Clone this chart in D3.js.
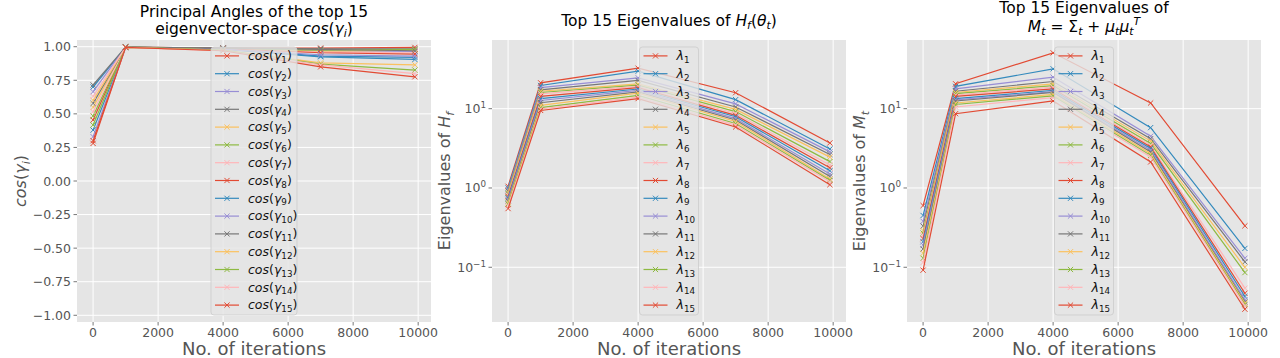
<!DOCTYPE html>
<html>
<head>
<meta charset="utf-8">
<script src="https://cdn.jsdelivr.net/npm/d3@7"></script>
<style>
html,body{margin:0;padding:0;background:#fff;}
svg text{white-space:pre;font-family:"DejaVu Sans",sans-serif;}
</style>
</head>
<body>
<svg id="chart" width="1280" height="358"></svg>
<script>
// ---------------- DATA ----------------
const iterations = [0, 1000, 4000, 7000, 9900];
const xTicks = [0, 2000, 4000, 6000, 8000, 10000];
const cosTicks = [-1.0, -0.75, -0.5, -0.25, 0.0, 0.25, 0.5, 0.75, 1.0];
const logTicks = [0.1, 1, 10];
const logTickExp = ["\u22121", "0", "1"];
const colors = ["#E24A33", "#348ABD", "#988ED5", "#777777", "#FBC15E", "#8EBA42", "#FFB5B8"];

// cos(gamma_i) per series, values at iterations
const cos1  = [0.454, 0.998, 0.990, 0.990, 0.995];
const cos2  = [0.700, 0.997, 0.985, 0.930, 0.920];
const cos3  = [0.665, 0.997, 0.985, 0.970, 0.965];
const cos4  = [0.715, 0.998, 0.990, 0.985, 0.985];
const cos5  = [0.548, 0.997, 0.985, 0.965, 0.975];
const cos6  = [0.484, 0.997, 0.985, 0.975, 0.980];
const cos7  = [0.516, 0.996, 0.980, 0.960, 0.955];
const cos8  = [0.280, 0.996, 0.985, 0.955, 0.945];
const cos9  = [0.379, 0.996, 0.980, 0.925, 0.905];
const cos10 = [0.330, 0.996, 0.980, 0.940, 0.930];
const cos11 = [0.578, 0.997, 0.990, 0.980, 0.970];
const cos12 = [0.600, 0.995, 0.975, 0.880, 0.865];
const cos13 = [0.417, 0.995, 0.975, 0.870, 0.826];
const cos14 = [0.630, 0.995, 0.970, 0.865, 0.800];
const cos15 = [0.300, 0.995, 0.970, 0.850, 0.776];

// Top 15 eigenvalues of H_f
const hf1  = [1.05, 21.2, 32.4, 15.9, 3.70];
const hf2  = [1.00, 19.6, 29.7, 13.0, 3.10];
const hf3  = [0.95, 18.4, 24.5, 11.5, 2.85];
const hf4  = [0.92, 17.3, 22.7, 10.5, 2.65];
const hf5  = [0.88, 16.6, 20.6, 9.8, 2.45];
const hf6  = [0.85, 16.0, 19.8, 9.2, 2.15];
const hf7  = [0.82, 15.4, 19.1, 8.7, 1.95];
const hf8  = [0.78, 14.3, 18.4, 8.24, 1.80];
const hf9  = [0.75, 13.4, 17.7, 7.9, 1.65];
const hf10 = [0.72, 12.7, 17.0, 7.5, 1.50];
const hf11 = [0.69, 11.9, 16.3, 7.2, 1.40];
const hf12 = [0.66, 11.0, 15.7, 6.9, 1.30];
const hf13 = [0.63, 10.3, 14.7, 6.5, 1.25];
const hf14 = [0.60, 9.9, 14.0, 6.2, 1.20];
const hf15 = [0.55, 9.5, 13.4, 5.87, 1.10];

// Top 15 eigenvalues of M_t
const mt1  = [0.600, 20.6, 50.6, 11.8, 0.333];
const mt2  = [0.450, 19.1, 31.8, 5.77, 0.173];
const mt3  = [0.380, 17.8, 25.0, 4.49, 0.130];
const mt4  = [0.330, 16.6, 22.0, 4.19, 0.117];
const mt5  = [0.290, 16.0, 20.6, 3.90, 0.100];
const mt6  = [0.270, 15.5, 19.5, 3.63, 0.0857];
const mt7  = [0.250, 14.9, 18.7, 3.45, 0.0545];
const mt8  = [0.230, 14.3, 17.8, 3.29, 0.0470];
const mt9  = [0.210, 13.4, 17.0, 3.15, 0.0428];
const mt10 = [0.190, 12.9, 16.4, 2.99, 0.0389];
const mt11 = [0.170, 12.5, 16.0, 2.85, 0.0366];
const mt12 = [0.150, 11.8, 15.1, 2.71, 0.0353];
const mt13 = [0.130, 11.3, 14.5, 2.58, 0.0340];
const mt14 = [0.115, 10.5, 13.8, 2.46, 0.0326];
const mt15 = [0.092, 8.65, 12.5, 2.13, 0.0296];

const cosSeries = [cos1,cos2,cos3,cos4,cos5,cos6,cos7,cos8,cos9,cos10,cos11,cos12,cos13,cos14,cos15];
const hfSeries = [hf1,hf2,hf3,hf4,hf5,hf6,hf7,hf8,hf9,hf10,hf11,hf12,hf13,hf14,hf15];
const mtSeries = [mt1,mt2,mt3,mt4,mt5,mt6,mt7,mt8,mt9,mt10,mt11,mt12,mt13,mt14,mt15];
const seriesIdx = d3.range(1, 16);

// ---------------- DRAW ----------------
const svg = d3.select("#chart");
const PW = 354, PT = 40, PB = 322;
const TICKFS = 12.5;

function rich(sel, parts, fs) {
  let shift = 0;
  parts.forEach(([t, s]) => {
    let target = 0, size = fs, it = false;
    if (s === "i") it = true;
    if (s === "sub") { it = true; size = fs * 0.7; target = fs * 0.22; }
    if (s === "subn") { size = fs * 0.7; target = fs * 0.22; }
    if (s === "sup") { it = true; size = fs * 0.7; target = -fs * 0.42; }
    if (s === "supn") { size = fs * 0.7; target = -fs * 0.42; }
    sel.append("tspan").text(t).attr("font-size", size)
      .attr("font-style", it ? "italic" : "normal")
      .attr("dy", target - shift);
    shift = target;
  });
  return sel;
}

function panel(opts) {
  const L = opts.left, R = L + PW;
  const g = svg.append("g");
  const x = d3.scaleLinear().domain([-495, 10395]).range([L, R]);
  const y = opts.y;
  g.append("rect").attr("x", L).attr("y", PT).attr("width", PW).attr("height", PB - PT).attr("fill", "#E5E5E5");
  // grid
  g.selectAll(".gx").data(xTicks).join("line")
    .attr("x1", d => x(d)).attr("x2", d => x(d)).attr("y1", PT).attr("y2", PB)
    .attr("stroke", "#fff").attr("stroke-width", 1);
  g.selectAll(".gy").data(opts.yTicks).join("line")
    .attr("y1", d => y(d)).attr("y2", d => y(d)).attr("x1", L).attr("x2", R)
    .attr("stroke", "#fff").attr("stroke-width", 1);
  // ticks
  g.selectAll(".tx").data(xTicks).join("line")
    .attr("x1", d => x(d)).attr("x2", d => x(d)).attr("y1", PB).attr("y2", PB + 3.5)
    .attr("stroke", "#555").attr("stroke-width", 0.8);
  g.selectAll(".ty").data(opts.yTicks).join("line")
    .attr("y1", d => y(d)).attr("y2", d => y(d)).attr("x1", L - 3.5).attr("x2", L)
    .attr("stroke", "#555").attr("stroke-width", 0.8);
  g.selectAll(".lx").data(xTicks).join("text")
    .attr("x", d => x(d)).attr("y", PB + 15).attr("text-anchor", "middle")
    .attr("font-size", TICKFS).attr("fill", "#555").text(d => d);
  opts.yLabels(g, L - 6, y);
  // series
  const line = d3.line().x((d, i) => x(iterations[i])).y(d => y(d));
  opts.series.forEach((s, k) => {
    const c = colors[k % colors.length];
    g.append("path").attr("d", line(s)).attr("fill", "none").attr("stroke", c).attr("stroke-width", 1.2);
    s.forEach((v, i) => {
      const px = x(iterations[i]), py = y(v), m = 2.6;
      g.append("path").attr("d", `M${px - m},${py - m}L${px + m},${py + m}M${px - m},${py + m}L${px + m},${py - m}`)
        .attr("stroke", c).attr("stroke-width", 1);
    });
  });
  // legend
  const cx = (L + R) / 2;
  const lw = opts.legendW, lh = 15 * 17.8 + 1;
  const top = (PT + PB) / 2 - lh / 2;
  const lg = g.append("g");
  lg.append("rect").attr("x", cx - lw / 2).attr("y", top).attr("width", lw).attr("height", lh)
    .attr("rx", 3).attr("fill", "#E5E5E5").attr("fill-opacity", 0.8).attr("stroke", "#CCCCCC").attr("stroke-opacity", 0.8).attr("stroke-width", 1);
  seriesIdx.forEach((n, k) => {
    const c = colors[k % colors.length];
    const yy = top + 8.9 + k * 17.8;
    const x0 = cx - lw / 2 + 4;
    lg.append("line").attr("x1", x0).attr("x2", x0 + 24).attr("y1", yy).attr("y2", yy).attr("stroke", c).attr("stroke-width", 1.2);
    const m = 2.6, mx = x0 + 12;
    lg.append("path").attr("d", `M${mx - m},${yy - m}L${mx + m},${yy + m}M${mx - m},${yy + m}L${mx + m},${yy - m}`).attr("stroke", c).attr("stroke-width", 1);
    const t = lg.append("text").attr("x", x0 + 33).attr("y", yy + 4.3).attr("fill", "#111");
    rich(t, opts.legendParts(n), 12.5);
  });
  // x label
  g.append("text").attr("x", cx).attr("y", 355).attr("text-anchor", "middle")
    .attr("font-size", 18).attr("fill", "#555").text("No. of iterations");
  // y label
  const yl = g.append("text").attr("transform", `translate(${opts.ylabX},${(PT + PB) / 2}) rotate(-90)`)
    .attr("text-anchor", "middle").attr("fill", "#555");
  rich(yl, opts.ylabParts, 16);
  // title
  opts.title.forEach(([parts, yy]) => {
    const t = g.append("text").attr("x", cx).attr("y", yy).attr("text-anchor", "middle").attr("fill", "#000");
    rich(t, parts, 15.5);
  });
}

const fmtCos = d => (d < 0 ? "\u2212" : "") + Math.abs(d).toFixed(2);
function linLabels(g, xr, y) {
  g.selectAll(".ly").data(cosTicks).join("text")
    .attr("x", xr).attr("y", d => y(d) + 4.5).attr("text-anchor", "end")
    .attr("font-size", TICKFS).attr("fill", "#555").text(fmtCos);
}
function logLabels(g, xr, y) {
  logTicks.forEach((d, i) => {
    const t = g.append("text").attr("x", xr).attr("y", y(d) + 4.5).attr("text-anchor", "end").attr("fill", "#555");
    rich(t, [["10", "n"], [logTickExp[i], "supn"]], TICKFS);
  });
}

const yLin = d3.scaleLinear().domain([-1.05, 1.05]).range([PB, PT]);
const yLog = d3.scaleLog().domain([Math.pow(10, -1.69), Math.pow(10, 1.866)]).range([PB, PT]);

panel({
  left: 77, y: yLin, yTicks: cosTicks, yLabels: linLabels, series: cosSeries, legendW: 86,
  legendParts: n => [["cos", "i"], ["(", "n"], ["\u03B3", "i"], [String(n), "subn"], [")", "n"]],
  ylabX: 26, ylabParts: [["cos", "i"], ["(", "n"], ["\u03B3", "i"], ["i", "sub"], [")", "n"]],
  title: [[[["Principal Angles of the top 15", "n"]], 17],
          [[["eigenvector-space ", "n"], ["cos", "i"], ["(", "n"], ["\u03B3", "i"], ["i", "sub"], [")", "n"]], 33.5]]
});
panel({
  left: 492, y: yLog, yTicks: logTicks, yLabels: logLabels, series: hfSeries, legendW: 59,
  legendParts: n => [["\u03BB", "i"], [String(n), "subn"]],
  ylabX: 450, ylabParts: [["Eigenvalues of ", "n"], ["H", "i"], ["f", "sub"]],
  title: [[[["Top 15 Eigenvalues of ", "n"], ["H", "i"], ["f", "sub"], ["(", "n"], ["\u03B8", "i"], ["t", "sub"], [")", "n"]], 26]]
});
panel({
  left: 907, y: yLog, yTicks: logTicks, yLabels: logLabels, series: mtSeries, legendW: 59,
  legendParts: n => [["\u03BB", "i"], [String(n), "subn"]],
  ylabX: 865, ylabParts: [["Eigenvalues of ", "n"], ["M", "i"], ["t", "sub"]],
  title: [[[["Top 15 Eigenvalues of", "n"]], 13],
          [[["M", "i"], ["t", "sub"], [" = \u03A3", "n"], ["t", "sub"], [" + ", "n"], ["\u03BC", "i"], ["t", "sub"], ["\u03BC", "i"], ["t", "sub"], ["T", "sup"]], 32]]
});
</script>
</body>
</html>
